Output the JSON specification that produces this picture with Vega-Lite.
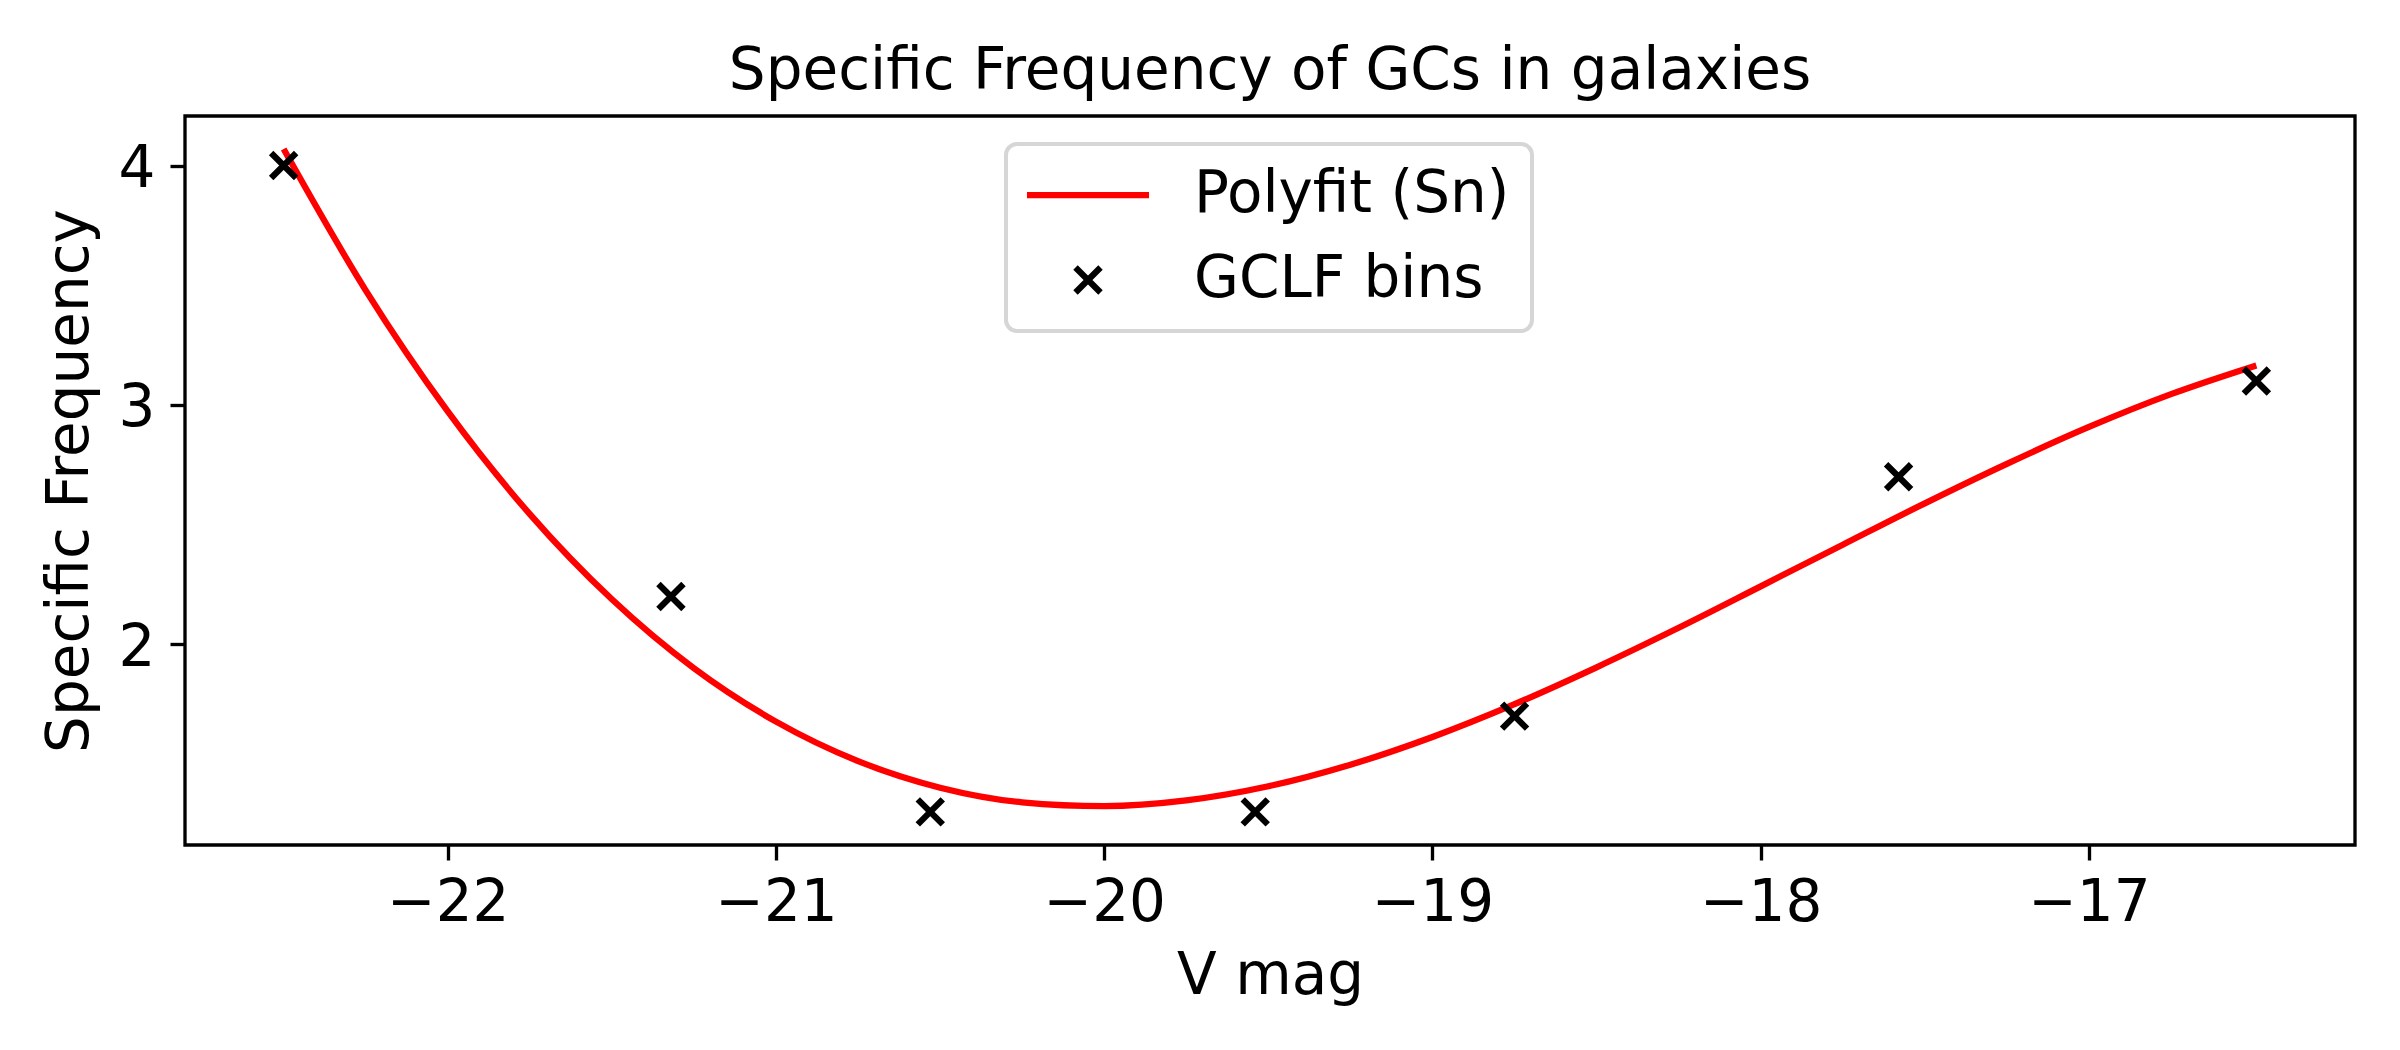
{
  "$schema": "https://vega.github.io/schema/vega-lite/v6.json",
  "autosize": {"type": "none"},
  "padding": {"left": 185, "top": 116, "right": 45, "bottom": 205},
  "width": 2170,
  "height": 729,
  "background": "white",
  "title": {
    "text": "Specific Frequency of GCs in galaxies",
    "font": "DejaVu Sans",
    "fontSize": 58,
    "fontWeight": "normal",
    "color": "black",
    "anchor": "middle",
    "baseline": "alphabetic",
    "offset": 14,
    "dy": 45
  },
  "datasets": {
    "fit": [
      {"vmag": -22.5, "sn": 4.069, "series": "Polyfit (Sn)"},
      {"vmag": -22.25, "sn": 3.479, "series": "Polyfit (Sn)"},
      {"vmag": -22.0, "sn": 2.973, "series": "Polyfit (Sn)"},
      {"vmag": -21.75, "sn": 2.544, "series": "Polyfit (Sn)"},
      {"vmag": -21.5, "sn": 2.188, "series": "Polyfit (Sn)"},
      {"vmag": -21.25, "sn": 1.9, "series": "Polyfit (Sn)"},
      {"vmag": -21.0, "sn": 1.677, "series": "Polyfit (Sn)"},
      {"vmag": -20.75, "sn": 1.512, "series": "Polyfit (Sn)"},
      {"vmag": -20.5, "sn": 1.401, "series": "Polyfit (Sn)"},
      {"vmag": -20.25, "sn": 1.34, "series": "Polyfit (Sn)"},
      {"vmag": -20.0, "sn": 1.324, "series": "Polyfit (Sn)"},
      {"vmag": -19.75, "sn": 1.348, "series": "Polyfit (Sn)"},
      {"vmag": -19.5, "sn": 1.407, "series": "Polyfit (Sn)"},
      {"vmag": -19.25, "sn": 1.497, "series": "Polyfit (Sn)"},
      {"vmag": -19.0, "sn": 1.613, "series": "Polyfit (Sn)"},
      {"vmag": -18.75, "sn": 1.75, "series": "Polyfit (Sn)"},
      {"vmag": -18.5, "sn": 1.904, "series": "Polyfit (Sn)"},
      {"vmag": -18.25, "sn": 2.069, "series": "Polyfit (Sn)"},
      {"vmag": -18.0, "sn": 2.242, "series": "Polyfit (Sn)"},
      {"vmag": -17.75, "sn": 2.416, "series": "Polyfit (Sn)"},
      {"vmag": -17.5, "sn": 2.589, "series": "Polyfit (Sn)"},
      {"vmag": -17.25, "sn": 2.754, "series": "Polyfit (Sn)"},
      {"vmag": -17.0, "sn": 2.908, "series": "Polyfit (Sn)"},
      {"vmag": -16.75, "sn": 3.045, "series": "Polyfit (Sn)"},
      {"vmag": -16.49, "sn": 3.165, "series": "Polyfit (Sn)"}
    ],
    "bins": [
      {"vmag": -22.5, "sn": 4.0, "series": "GCLF bins"},
      {"vmag": -21.32, "sn": 2.2, "series": "GCLF bins"},
      {"vmag": -20.53, "sn": 1.3, "series": "GCLF bins"},
      {"vmag": -19.54, "sn": 1.3, "series": "GCLF bins"},
      {"vmag": -18.75, "sn": 1.7, "series": "GCLF bins"},
      {"vmag": -17.58, "sn": 2.7, "series": "GCLF bins"},
      {"vmag": -16.49, "sn": 3.1, "series": "GCLF bins"}
    ]
  },
  "layer": [
    {
      "data": {"name": "fit"},
      "mark": {"type": "line", "strokeWidth": 6.25, "interpolate": "monotone", "clip": true},
      "encoding": {
        "x": {"field": "vmag", "type": "quantitative"},
        "y": {"field": "sn", "type": "quantitative"},
        "color": {
          "field": "series",
          "type": "nominal",
          "scale": {"domain": ["Polyfit (Sn)", "GCLF bins"], "range": ["#ff0000", "#000000"]},
          "legend": {"title": null}
        }
      }
    },
    {
      "data": {"name": "bins"},
      "mark": {"type": "point", "filled": false, "size": 625, "strokeWidth": 6.25, "opacity": 1, "strokeCap": "butt"},
      "encoding": {
        "x": {"field": "vmag", "type": "quantitative"},
        "y": {"field": "sn", "type": "quantitative"},
        "color": {
          "field": "series",
          "type": "nominal",
          "scale": {"domain": ["Polyfit (Sn)", "GCLF bins"], "range": ["#ff0000", "#000000"]},
          "legend": {"title": null}
        },
        "shape": {
          "field": "series",
          "type": "nominal",
          "scale": {"domain": ["Polyfit (Sn)", "GCLF bins"], "range": ["M-4.88,0L4.88,0", "M-1,-1L1,1M-1,1L1,-1"]},
          "legend": {"title": null}
        }
      }
    }
  ],
  "encoding": {
    "x": {
      "field": "vmag",
      "type": "quantitative",
      "scale": {"domain": [-22.8005, -16.1895], "nice": false, "zero": false},
      "axis": {
        "title": "V mag",
        "values": [-22, -21, -20, -19, -18, -17],
        "format": "d",
        "labelBaseline": "alphabetic",
        "labelPadding": 60,
        "titleBaseline": "alphabetic",
        "titleY": 148,
        "titleX": 1085,
        "titleAlign": "center"
      }
    },
    "y": {
      "field": "sn",
      "type": "quantitative",
      "scale": {"domain": [1.1616, 4.2071], "nice": false, "zero": false},
      "axis": {
        "title": "Specific Frequency",
        "values": [2, 3, 4],
        "format": "d",
        "labelBaseline": "alphabetic",
        "labelOffset": 21,
        "labelPadding": 15,
        "titleBaseline": "alphabetic",
        "titleAngle": -90,
        "titleX": -98,
        "titleY": 364.5,
        "titleAlign": "center"
      }
    }
  },
  "config": {
    "font": "DejaVu Sans",
    "view": {"stroke": "black", "strokeWidth": 3.33},
    "axis": {
      "grid": false,
      "domain": false,
      "ticks": true,
      "tickColor": "black",
      "tickWidth": 3.33,
      "tickSize": 15,
      "labelFont": "DejaVu Sans",
      "labelFontSize": 58,
      "labelColor": "black",
      "labelFlush": false,
      "labelOverlap": false,
      "titleFont": "DejaVu Sans",
      "titleFontSize": 58,
      "titleFontWeight": "normal",
      "titleColor": "black"
    },
    "legend": {
      "orient": "none",
      "legendX": 821,
      "legendY": 28,
      "padding": 22,
      "fillColor": "white",
      "strokeColor": "#d6d6d6",
      "strokeWidth": 4,
      "cornerRadius": 11,
      "symbolSize": 625,
      "symbolStrokeWidth": 6.25,
      "symbolOffset": 31,
      "symbolFillColor": "transparent",
      "labelOffset": 77,
      "labelFont": "DejaVu Sans",
      "labelFontSize": 58,
      "labelColor": "black",
      "labelBaseline": "middle",
      "labelLimit": 1000,
      "rowPadding": 27,
      "symbolOpacity": 1
    }
  }
}
